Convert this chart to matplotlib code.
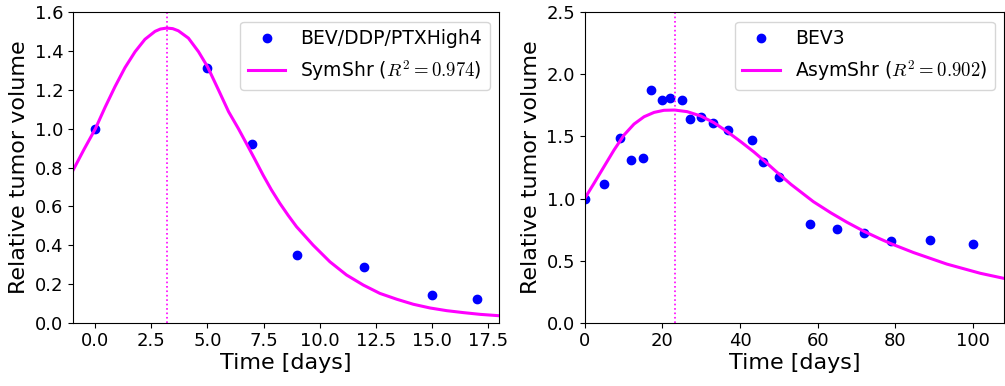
import numpy as np
import matplotlib
matplotlib.use("Agg")
import matplotlib.pyplot as plt

plt.rcParams['mathtext.fontset'] = 'cm'

# Left panel: BEV/DDP/PTXHigh4 data and SymShr fit
t_left = [0, 5, 7, 9, 12, 15, 17]
v_left = [1.0, 1.315, 0.923, 0.349, 0.289, 0.143, 0.122]

fit_t_left = [-1.0, -0.5, 0.0, 0.43, 0.875, 1.32, 1.77, 2.21, 2.66, 2.9, 3.18, 3.45,
              3.7, 4.15, 4.6, 5.0, 5.49, 5.94, 6.38, 6.74, 7.1, 7.48, 7.85, 8.23,
              8.6, 8.97, 9.71, 10.46, 11.2, 11.95, 12.69, 13.44, 14.18, 14.92, 15.67,
              16.41, 17.16, 18.0]
fit_v_left = [0.785, 0.895, 1.0, 1.11, 1.217, 1.315, 1.397, 1.461, 1.502, 1.514, 1.519,
              1.516, 1.505, 1.467, 1.397, 1.32, 1.20, 1.088, 1.0, 0.923, 0.845, 0.761,
              0.685, 0.615, 0.553, 0.495, 0.40, 0.314, 0.246, 0.194, 0.151, 0.121,
              0.095, 0.076, 0.062, 0.052, 0.043, 0.036]
peak_left = 3.2

# Right panel: BEV3 data and AsymShr fit
t_right = [0, 5, 9, 12, 15, 17, 20, 22, 25, 27, 30, 33, 37, 43, 46, 50,
           58, 65, 72, 79, 89, 100]
v_right = [1.0, 1.12, 1.485, 1.31, 1.324, 1.872, 1.796, 1.81, 1.79, 1.64, 1.654,
           1.608, 1.549, 1.469, 1.297, 1.171, 0.797, 0.752, 0.72, 0.661, 0.664, 0.631]

fit_t_right = [0.0, 2.4, 4.97, 7.55, 10.13, 12.7, 15.28, 17.86, 20.4, 23.2, 26.4,
               29.9, 33.3, 36.75, 40.2, 43.6, 46.2, 49.6, 53.1, 58.9, 63.4, 67.5,
               72.0, 76.1, 79.0, 84.7, 93.3, 101.9, 108.3]
fit_v_right = [1.0, 1.123, 1.257, 1.391, 1.512, 1.60, 1.659, 1.694, 1.711, 1.713, 1.70,
               1.665, 1.611, 1.538, 1.458, 1.375, 1.305, 1.21, 1.115, 0.975, 0.885, 0.81,
               0.735, 0.675, 0.635, 0.565, 0.472, 0.398, 0.355]
peak_right = 23.2

fig = plt.figure(figsize=(10.05, 3.86), dpi=100)
ax1 = fig.add_axes([0.0726, 0.164, 0.4239, 0.804])
ax2 = fig.add_axes([0.5818, 0.164, 0.4172, 0.804])

ax1.plot(t_left, v_left, 'o', color='blue', markersize=6, label='BEV/DDP/PTXHigh4')
ax1.plot(fit_t_left, fit_v_left, '-', color='magenta', lw=2.2,
         label=r'SymShr ($R^2=0.974$)')
ax1.axvline(peak_left, color='magenta', ls=':', lw=1.2)
ax1.set_xlim(-1, 18)
ax1.set_ylim(0, 1.6)
ax1.set_xticks(np.arange(0, 18, 2.5))

ax2.plot(t_right, v_right, 'o', color='blue', markersize=6, label='BEV3')
ax2.plot(fit_t_right, fit_v_right, '-', color='magenta', lw=2.2,
         label=r'AsymShr ($R^2=0.902$)')
ax2.axvline(peak_right, color='magenta', ls=':', lw=1.2)
ax2.set_xlim(0, 108)
ax2.set_ylim(0, 2.5)
ax2.set_yticks(np.arange(0, 2.6, 0.5))

for ax in (ax1, ax2):
    ax.set_xlabel('Time [days]', fontsize=16, labelpad=2)
    ax.set_ylabel('Relative tumor volume', fontsize=16)
    ax.tick_params(labelsize=13)
    ax.legend(loc='upper right', fontsize=13.5)

fig.savefig('out.png', dpi=100)
